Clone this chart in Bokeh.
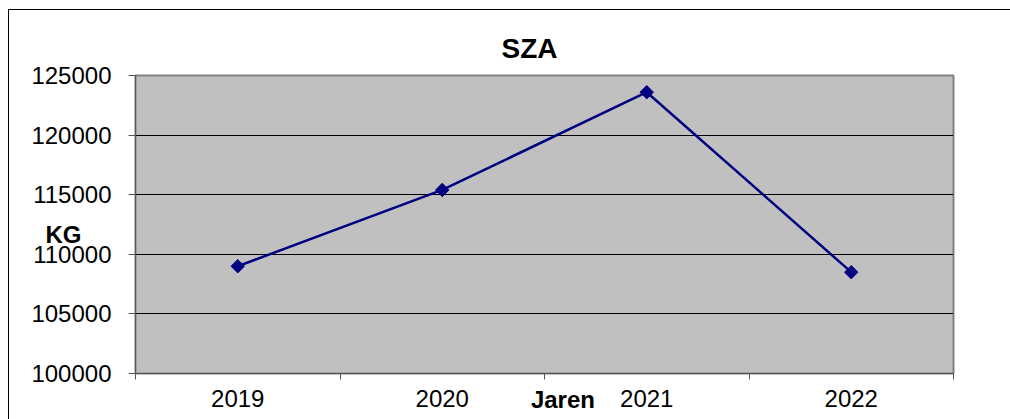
import math
from bokeh.plotting import figure
from bokeh.layouts import column
from bokeh.models import Range1d, FixedTicker, BasicTickFormatter, Title, LinearAxis
from bokeh.embed import file_html
from bokeh.resources import INLINE

years = ["2019", "2020", "2021", "2022"]
kg = [109000, 115400, 123600, 108500]
y_ticks = [100000, 105000, 110000, 115000, 120000, 125000]

chart_title = "SZA"
x_title = "Jaren"
y_title = "KG"

FONT = "Liberation Sans"
NAVY = "#000080"
KG_LABEL_Y = 111650   # vertical position of the "KG" caption (data units)
JAREN_X = 2.09        # horizontal position of the "Jaren" caption (band units)

xs = [i + 0.5 for i in range(len(years))]
bounds = list(range(len(years) + 1))

p = figure(width=1001, height=409, output_backend="svg", toolbar_location=None,
           title=None,
           x_range=Range1d(0, len(years)), y_range=Range1d(y_ticks[0], y_ticks[-1]),
           min_border_left=126, min_border_right=57, min_border_top=65, min_border_bottom=46)

p.background_fill_color = "#C0C0C0"
p.border_fill_color = "#FFFFFF"
p.outline_line_color = "#808080"
p.outline_line_width = 2

xa = p.xaxis[0]
xa.ticker = FixedTicker(ticks=xs, minor_ticks=bounds)
xa.major_label_overrides = {x: y for x, y in zip(xs, years)}
xa.major_tick_line_color = None
xa.major_tick_out = 6
xa.major_tick_in = 0
xa.minor_tick_line_color = "#555555"
xa.minor_tick_out = 6
xa.minor_tick_in = 0
xa.axis_line_color = "#555555"
xa.major_label_standoff = 10
xa.major_label_text_font = FONT
xa.major_label_text_font_size = "24px"
xa.major_label_text_color = "#000000"
p.xgrid.visible = False

ya = p.yaxis[0]
ya.ticker = FixedTicker(ticks=y_ticks, minor_ticks=[])
ya.formatter = BasicTickFormatter(use_scientific=False)
ya.major_tick_out = 7
ya.major_tick_in = 0
ya.major_tick_line_color = "#555555"
ya.axis_line_color = "#555555"
ya.major_label_standoff = 17
ya.major_label_text_font = FONT
ya.major_label_text_font_size = "24px"
ya.major_label_text_color = "#000000"
p.ygrid.grid_line_color = "#000000"
p.ygrid.grid_line_width = 1


def caption_axis(tick, text, standoff):
    return LinearAxis(ticker=FixedTicker(ticks=[tick], minor_ticks=[]),
                      major_label_overrides={tick: text},
                      axis_line_color=None, major_tick_line_color=None,
                      minor_tick_line_color=None, major_tick_out=0, major_tick_in=0,
                      minor_tick_out=0, minor_tick_in=0,
                      major_label_standoff=standoff,
                      major_label_text_font=FONT, major_label_text_font_size="24px",
                      major_label_text_font_style="bold", major_label_text_color="#000000")


p.add_layout(caption_axis(JAREN_X, x_title, -24), "below")
p.add_layout(caption_axis(KG_LABEL_Y, y_title, -53), "left")

p.line(xs, kg, line_color=NAVY, line_width=2.5)
p.scatter(xs, kg, marker="square", size=9.5, angle=math.pi / 4,
          fill_color=NAVY, line_color=NAVY)

p.add_layout(Title(text=chart_title, align="left", offset=366, standoff=23,
                   text_font=FONT, text_font_size="28px", text_font_style="bold",
                   text_color="#000000"), "above")

page = column(p, styles={"margin-left": "8px", "margin-top": "9px",
                         "border-style": "solid", "border-color": "#000000",
                         "border-width": "1px 0px 0px 1px",
                         "outline": "none", "box-shadow": "none"})

open("out.html", "w").write(file_html(page, INLINE))
